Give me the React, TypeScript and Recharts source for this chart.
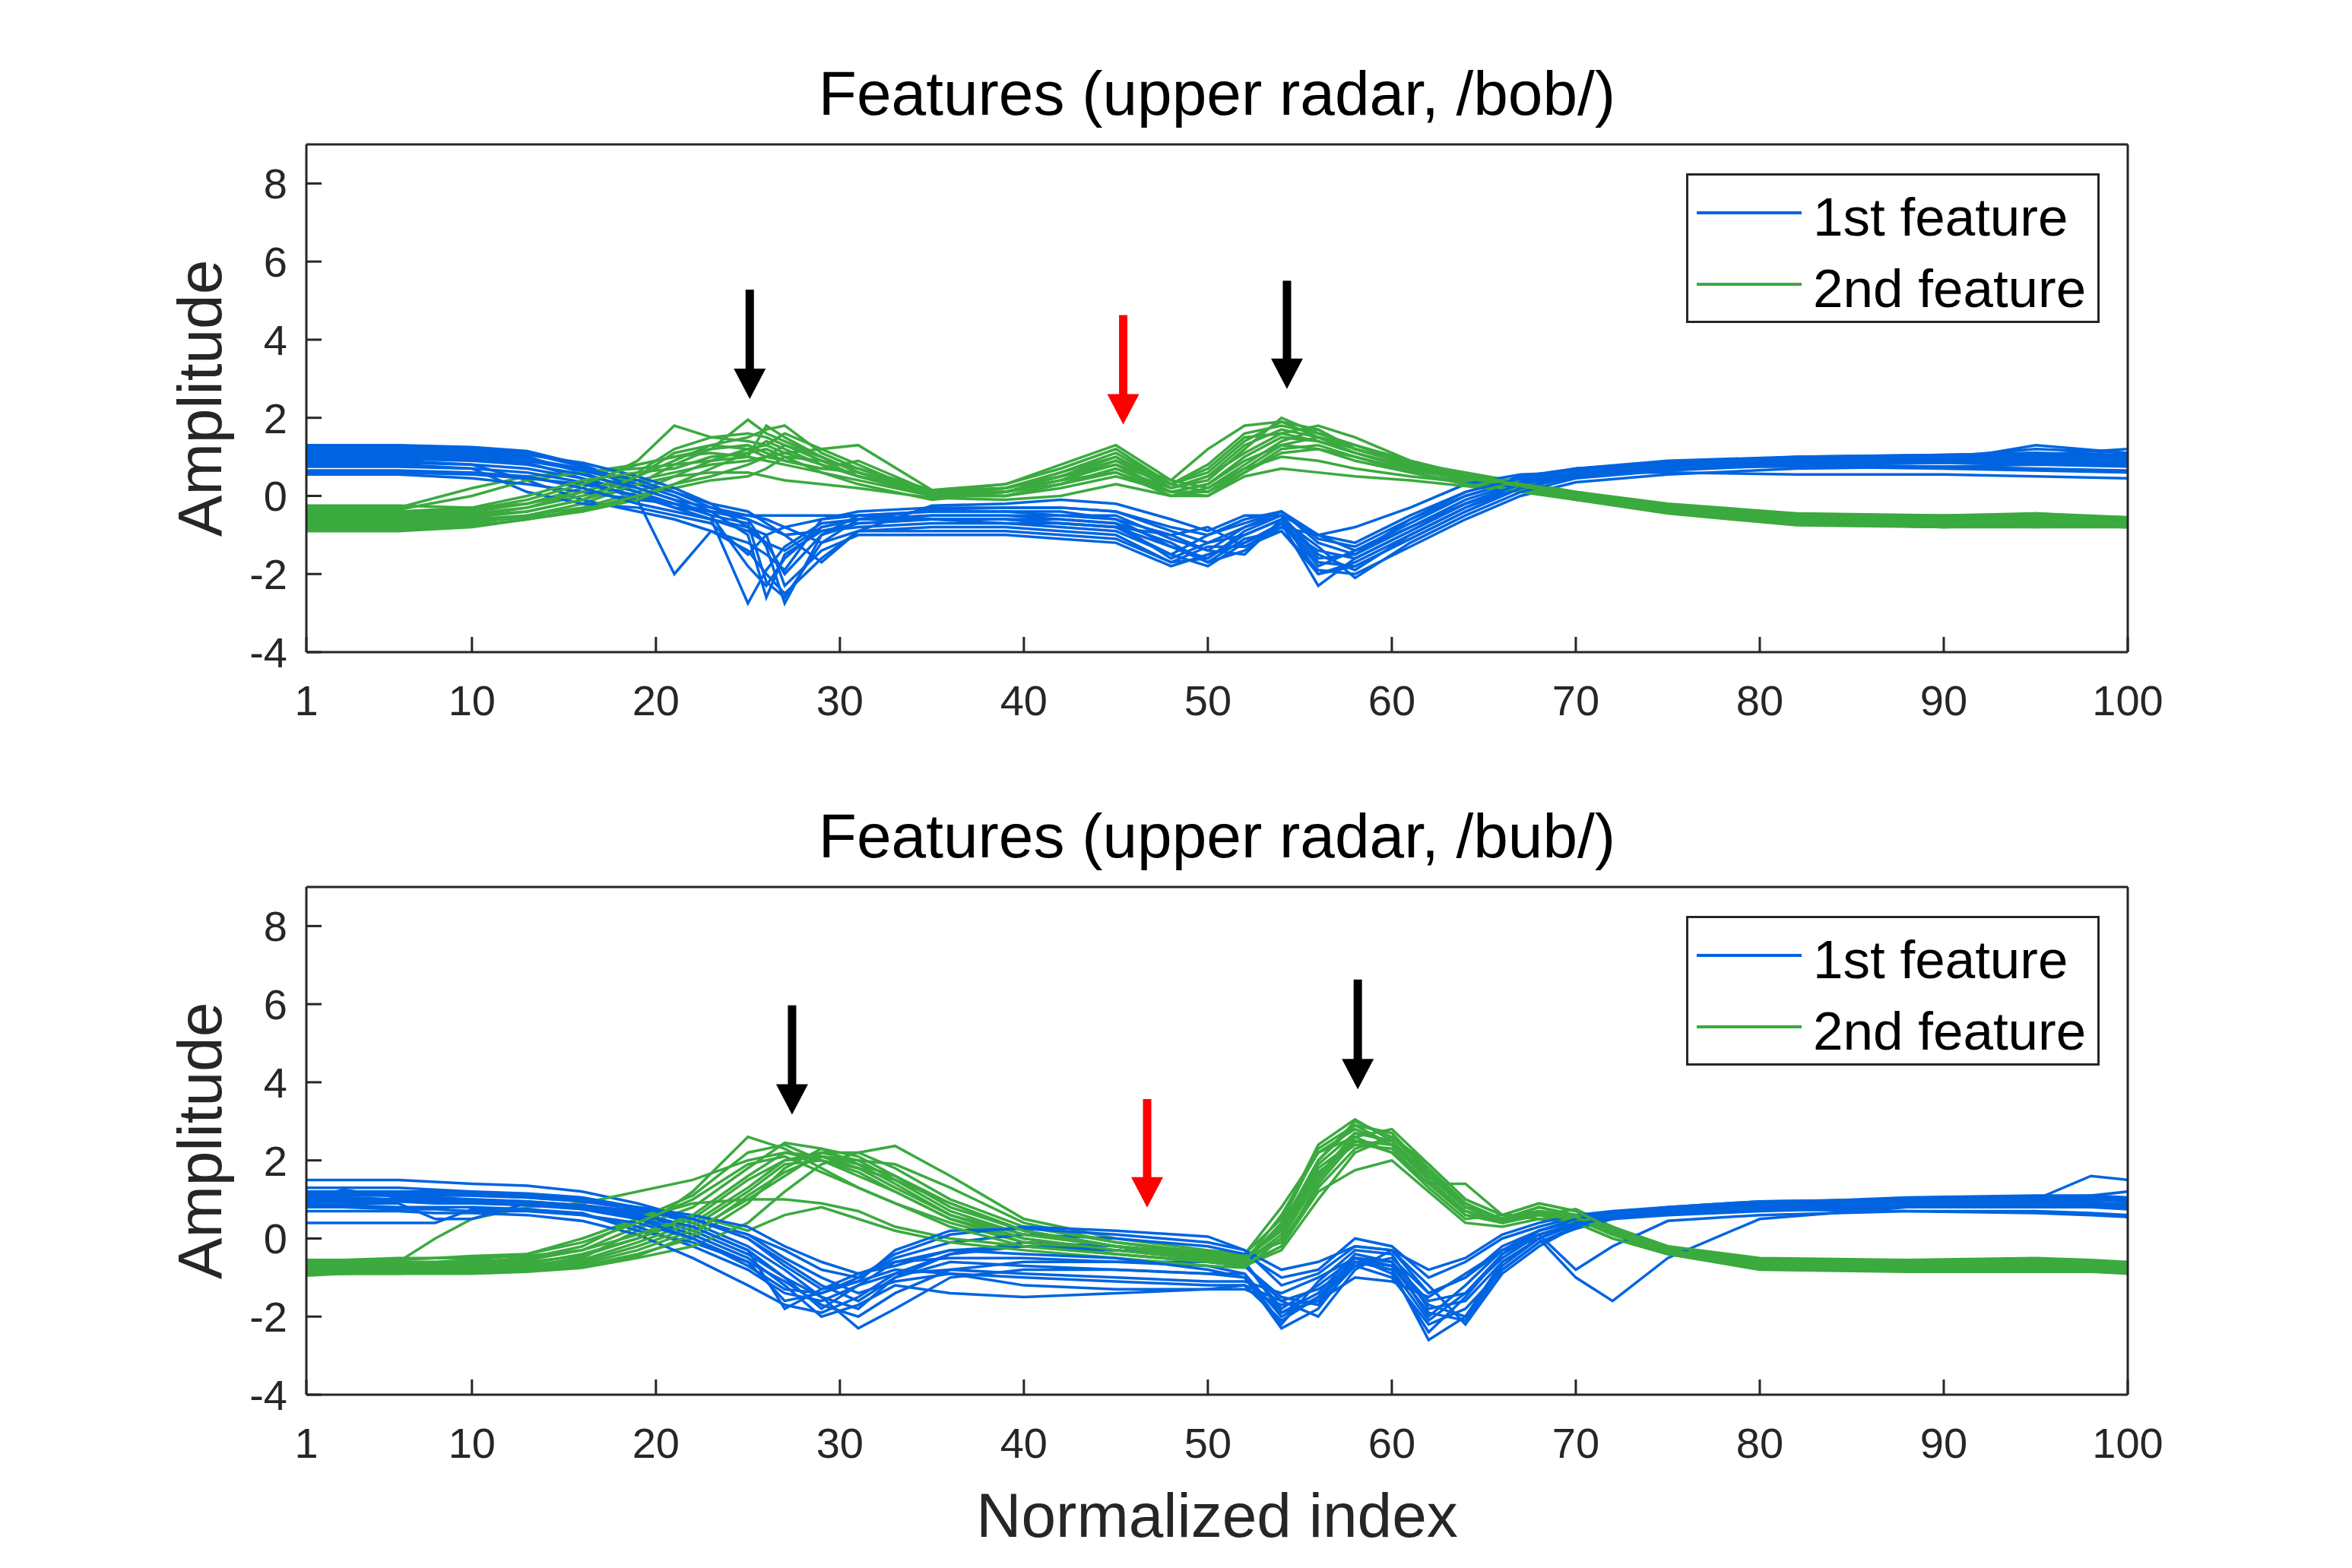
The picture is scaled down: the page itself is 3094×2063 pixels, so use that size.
import React from "react";
import { Legend, Line, LineChart, ReferenceLine, XAxis, YAxis } from "recharts";

const FIRST_COLOR = "#0064E1";
const SECOND_COLOR = "#3BAA3F";
const AXIS_COLOR = "#262626";
const FONT = "'Liberation Sans', Arial, Helvetica, sans-serif";

const X_TICKS = [1, 10, 20, 30, 40, 50, 60, 70, 80, 90, 100];
const Y_TICKS = [-4, -2, 0, 2, 4, 6, 8];

// sample positions (normalized index) used for the /bob/ curves
const GRID_BOB = [
  1, 6, 10, 13, 16, 19, 21, 23,
  25, 26, 27, 29, 31, 35, 39, 42,
  45, 48, 50, 52, 54, 56, 58, 61,
  64, 67, 70, 75, 82, 90, 95, 100,
];

const BOB_FIRST = [
  [1.3, 1.3, 1.25, 1.15, 0.8, 0.3, 0.1, -0.3, -0.6, -1.3, -2.75, -1.0, -0.5, -0.4, -0.4, -0.4, -0.6, -1.3, -1.6, -0.9, -0.5, -1.5, -1.9, -1.0, -0.3, 0.3, 0.6, 0.8, 0.95, 1.0, 1.2, 1.1],
  [1.15, 1.15, 1.1, 1.0, 0.6, 0.1, -0.3, -0.6, -2.75, -1.9, -1.3, -0.7, -0.6, -0.6, -0.6, -0.7, -0.8, -1.5, -1.8, -1.2, -0.7, -2.3, -1.6, -0.9, -0.2, 0.3, 0.55, 0.75, 0.9, 0.95, 1.0, 0.95],
  [1.0, 1.0, 0.95, 0.85, 0.45, -0.1, -2.0, -0.9, -1.2, -1.5, -1.9, -0.6, -0.4, -0.3, -0.3, -0.3, -0.4, -0.8, -1.0, -0.6, -0.4, -1.2, -1.5, -0.6, 0.0, 0.4, 0.65, 0.8, 0.85, 0.9, 0.9, 0.85],
  [0.9, 0.9, 0.8, 0.4, -0.1, -0.4, -0.6, -0.9, -1.4, -2.0, -2.5, -1.6, -0.9, -0.8, -0.8, -0.9, -1.0, -1.7, -1.3, -1.3, -0.9, -1.9, -2.0, -1.3, -0.6, 0.0, 0.35, 0.55, 0.7, 0.75, 0.8, 0.75],
  [0.85, 0.85, 0.8, 0.7, 0.45, 0.1, -0.2, -0.5, -0.7, -2.2, -2.6, -1.2, -0.9, -0.9, -0.9, -1.0, -1.1, -1.7, -1.6, -1.0, -0.6, -1.7, -1.8, -1.1, -0.4, 0.2, 0.5, 0.7, 0.8, 0.85, 0.85, 0.8],
  [0.8, 0.8, 0.7, 0.1, -0.2, -0.3, -0.5, -0.7, -1.5, -1.0, -0.8, -0.6, -0.5, -0.4, -0.4, -0.5, -0.6, -1.0, -0.8, -1.3, -0.8, -1.0, -1.4, -0.7, 0.0, 0.4, 0.7, 0.85, 0.95, 1.0, 1.05, 0.95],
  [0.6, 0.6, 0.55, 0.45, 0.3, 0.0, -0.3, -0.4, -0.5, -0.5, -0.5, -0.5, -0.5, -0.6, -0.7, -0.8, -0.9, -1.5, -1.0, -0.7, -0.4, -1.0, -1.2, -0.5, 0.1, 0.5, 0.7, 0.8, 0.8, 0.75, 0.7, 0.65],
  [1.05, 1.05, 1.0, 0.9, 0.65, 0.3, 0.0, -0.4, -1.0, -2.6, -1.5, -0.9, -0.7, -0.6, -0.6, -0.6, -0.7, -1.2, -1.7, -1.4, -0.7, -1.8, -1.4, -0.8, -0.2, 0.3, 0.55, 0.8, 0.9, 0.95, 1.05, 1.2],
  [0.55, 0.55, 0.45, 0.3, 0.1, -0.1, -0.2, -0.4, -0.6, -0.8, -1.0, -1.7, -0.9, -0.25, -0.2, -0.1, -0.2, -0.6, -0.9, -0.5, -0.5, -1.0, -0.8, -0.3, 0.3, 0.55, 0.6, 0.6, 0.55, 0.55, 0.5, 0.45],
  [1.2, 1.2, 1.15, 1.05, 0.85, 0.5, 0.2, -0.2, -0.8, -1.2, -2.0, -1.0, -0.7, -0.6, -0.6, -0.7, -0.8, -1.3, -1.7, -1.1, -0.9, -2.0, -1.7, -1.0, -0.3, 0.2, 0.5, 0.7, 0.85, 0.9, 1.3, 1.1],
  [0.75, 0.75, 0.7, 0.6, 0.35, 0.0, -0.3, -0.6, -0.9, -1.2, -1.4, -0.8, -0.6, -0.5, -0.5, -0.5, -0.5, -1.1, -1.4, -0.8, -0.5, -1.6, -1.5, -0.8, -0.1, 0.35, 0.6, 0.75, 0.8, 0.85, 0.8, 0.8],
  [1.1, 1.1, 1.05, 0.95, 0.7, 0.4, 0.1, -0.2, -0.4, -0.7, -1.0, -0.9, -0.8, -0.7, -0.7, -0.7, -0.8, -1.0, -1.4, -1.5, -0.6, -1.3, -2.1, -1.2, -0.5, 0.1, 0.45, 0.65, 0.8, 0.9, 0.95, 0.9],
  [1.25, 1.25, 1.2, 1.1, 0.75, 0.2, -0.1, -0.5, -1.8, -2.3, -1.6, -0.8, -0.6, -0.5, -0.5, -0.6, -0.7, -1.6, -1.2, -1.0, -0.6, -2.0, -1.8, -1.1, -0.4, 0.2, 0.55, 0.8, 1.0, 1.05, 1.1, 1.05],
  [0.65, 0.65, 0.6, 0.5, 0.2, -0.2, -0.4, -0.6, -0.8, -1.0, -2.3, -1.4, -1.0, -1.0, -1.0, -1.1, -1.2, -1.8, -1.5, -1.2, -0.8, -1.4, -1.6, -0.9, -0.2, 0.3, 0.6, 0.75, 0.75, 0.7, 0.65, 0.6],
  [0.95, 0.95, 0.9, 0.8, 0.55, 0.2, -0.1, -0.3, -0.5, -0.6, -0.8, -1.2, -0.6, -0.35, -0.3, -0.3, -0.4, -0.9, -1.2, -0.8, -0.4, -1.1, -1.3, -0.6, 0.1, 0.45, 0.7, 0.9, 1.0, 1.05, 1.1, 1.0],
];

const BOB_SECOND = [
  [-0.5, -0.5, -0.4, -0.2, 0.2, 0.9, 1.8, 1.5, 1.4, 1.3, 1.1, 0.8, 0.5, 0.1, 0.3, 0.7, 1.2, 0.3, 0.6, 1.4, 1.9, 1.7, 1.2, 0.8, 0.5, 0.3, 0.05, -0.3, -0.6, -0.65, -0.6, -0.65],
  [-0.7, -0.7, -0.6, -0.5, -0.2, 0.3, 0.8, 1.2, 1.95, 1.6, 1.4, 1.0, 0.6, 0.05, 0.2, 0.6, 1.0, 0.2, 0.4, 1.2, 2.0, 1.6, 1.3, 0.9, 0.55, 0.3, 0.0, -0.35, -0.65, -0.7, -0.7, -0.7],
  [-0.3, -0.3, 0.2, 0.5, 0.6, 0.7, 0.8, 0.9, 1.0, 1.8, 1.5, 1.0, 0.6, 0.1, 0.2, 0.5, 0.8, 0.1, 0.3, 1.0, 1.5, 1.4, 1.1, 0.7, 0.4, 0.25, 0.0, -0.3, -0.55, -0.6, -0.5, -0.6],
  [-0.8, -0.8, -0.7, -0.5, -0.3, 0.1, 0.5, 0.9, 1.2, 1.3, 1.6, 1.2, 0.8, 0.0, 0.1, 0.4, 0.9, 0.4, 0.2, 0.8, 1.4, 1.7, 1.2, 0.8, 0.5, 0.3, 0.0, -0.3, -0.65, -0.75, -0.8, -0.75],
  [-0.6, -0.6, -0.5, -0.3, 0.0, 0.4, 0.6, 0.8, 0.9, 1.0, 1.1, 1.2, 1.3, 0.15, 0.1, 0.3, 0.7, 0.2, 0.5, 1.3, 1.7, 1.5, 1.1, 0.7, 0.45, 0.2, 0.0, -0.3, -0.6, -0.6, -0.6, -0.65],
  [-0.35, -0.35, 0.0, 0.4, 0.6, 0.8, 1.0, 1.1, 1.0, 0.9, 0.8, 0.6, 0.4, 0.0, 0.0, 0.3, 0.6, 0.0, 0.2, 0.7, 1.0, 0.9, 0.7, 0.5, 0.35, 0.2, 0.0, -0.35, -0.6, -0.55, -0.45, -0.55],
  [-0.75, -0.75, -0.65, -0.55, -0.4, 0.0, 0.2, 0.4, 0.5, 0.7, 1.0, 0.9, 0.7, 0.05, 0.0, 0.2, 0.5, 0.1, 0.1, 0.6, 1.2, 1.3, 1.0, 0.6, 0.35, 0.15, -0.05, -0.35, -0.7, -0.75, -0.75, -0.8],
  [-0.55, -0.55, -0.45, -0.3, 0.1, 0.6, 1.2, 1.5, 1.6, 1.5, 1.3, 0.9, 0.5, 0.1, 0.1, 0.4, 0.8, 0.3, 0.8, 1.6, 1.8, 1.6, 1.3, 0.85, 0.6, 0.35, 0.1, -0.25, -0.5, -0.55, -0.5, -0.55],
  [-0.65, -0.65, -0.55, -0.4, -0.1, 0.3, 0.5, 0.6, 0.6, 0.5, 0.4, 0.3, 0.2, -0.05, -0.1, 0.0, 0.3, 0.0, 0.0, 0.5, 0.7, 0.6, 0.5, 0.4, 0.25, 0.1, -0.1, -0.45, -0.75, -0.8, -0.75, -0.75],
  [-0.25, -0.25, -0.3, -0.2, 0.1, 0.5, 0.9, 1.3, 1.5, 1.7, 1.8, 1.1, 0.7, 0.15, 0.3, 0.8, 1.3, 0.4, 1.2, 1.8, 1.9, 1.5, 1.2, 0.8, 0.55, 0.3, 0.05, -0.3, -0.5, -0.5, -0.45, -0.6],
  [-0.9, -0.9, -0.8, -0.6, -0.4, -0.1, 0.3, 0.7, 1.1, 1.4, 1.2, 0.8, 0.5, 0.0, 0.0, 0.3, 0.7, 0.1, 0.3, 0.9, 1.3, 1.2, 0.9, 0.6, 0.3, 0.15, -0.1, -0.4, -0.7, -0.8, -0.8, -0.8],
  [-0.45, -0.45, -0.35, -0.1, 0.3, 0.8, 1.0, 1.2, 1.3, 1.1, 0.9, 0.7, 0.9, 0.1, 0.2, 0.6, 1.1, 0.3, 0.7, 1.5, 1.6, 1.4, 1.1, 0.75, 0.5, 0.3, 0.05, -0.3, -0.55, -0.6, -0.55, -0.6],
  [-0.6, -0.6, -0.5, -0.4, -0.1, 0.5, 1.1, 1.3, 1.2, 1.0, 0.9, 0.7, 0.6, 0.1, 0.2, 0.5, 0.9, 0.2, 0.5, 1.1, 1.6, 1.8, 1.5, 0.9, 0.55, 0.3, 0.05, -0.3, -0.6, -0.7, -0.65, -0.7],
  [-0.85, -0.85, -0.75, -0.6, -0.35, 0.0, 0.3, 0.5, 0.8, 1.0, 1.3, 1.0, 0.6, 0.0, 0.1, 0.5, 1.0, 0.3, 0.1, 0.7, 1.3, 1.5, 1.3, 0.8, 0.45, 0.25, 0.0, -0.35, -0.7, -0.8, -0.75, -0.8],
  [-0.4, -0.4, -0.3, 0.0, 0.4, 0.6, 0.7, 1.0, 1.1, 1.2, 1.0, 0.6, 0.3, -0.1, 0.1, 0.4, 0.6, 0.1, 0.0, 0.6, 1.1, 1.2, 1.0, 0.65, 0.45, 0.3, 0.1, -0.2, -0.45, -0.5, -0.5, -0.55],
];

// sample positions for the /bub/ curves
const GRID_BUB = [
  1, 3, 6, 8, 10, 13, 16,
  19, 22, 25, 27, 29, 31, 33,
  36, 40, 45, 50, 52, 54, 56,
  58, 60, 62, 64, 66, 68, 70,
  72, 75, 80, 88, 95, 98, 100,
];

const BUB_FIRST = [
  [1.5, 1.5, 1.5, 1.45, 1.4, 1.35, 1.2, 0.9, 0.5, 0.0, -0.6, -1.2, -1.6, -1.0, -0.4, -0.1, -0.2, -0.4, -0.6, -1.8, -1.2, -0.5, -0.6, -1.6, -1.4, -0.4, 0.2, 0.45, 0.6, 0.75, 0.9, 1.0, 1.0, 1.6, 1.5],
  [1.2, 1.2, 1.2, 1.15, 1.1, 1.05, 0.95, 0.75, 0.4, -0.2, -0.8, -1.5, -2.3, -1.8, -1.0, -0.8, -0.8, -0.9, -0.9, -2.0, -1.5, -0.6, -0.8, -2.6, -2.0, -0.7, 0.0, 0.4, 0.6, 0.7, 0.85, 0.95, 0.95, 0.95, 1.0],
  [1.0, 1.25, 1.05, 1.0, 1.0, 0.95, 0.85, 0.6, 0.2, -0.4, -1.0, -1.8, -1.2, -0.6, -0.3, -0.2, -0.3, -0.5, -0.7, -1.6, -2.0, -0.8, -0.3, -1.2, -2.2, -0.9, -0.2, 0.3, 0.55, 0.7, 0.8, 0.9, 0.9, 0.9, 0.85],
  [0.85, 0.85, 0.8, 0.8, 0.8, 0.75, 0.6, 0.3, -0.2, -0.8, -1.4, -1.6, -1.2, -0.9, -0.8, -0.9, -1.0, -1.1, -1.1, -1.4, -1.0, -0.5, -0.9, -2.4, -1.5, -0.4, 0.1, 0.35, 0.5, 0.6, 0.7, 0.8, 0.8, 0.8, 0.75],
  [1.1, 1.1, 1.1, 1.05, 1.0, 0.95, 0.85, 0.65, 0.3, -0.3, -1.8, -1.3, -0.9, -0.6, -0.5, -0.5, -0.6, -0.7, -0.9, -2.2, -1.1, -0.3, -0.4, -1.8, -1.6, -0.6, 0.0, 0.4, 0.6, 0.75, 0.85, 0.95, 1.0, 1.0, 1.0],
  [0.4, 0.4, 0.4, 0.4, 0.75, 0.75, 0.65, 0.2, -0.1, -0.6, -1.1, -1.7, -2.0, -1.4, -0.8, -0.6, -0.6, -0.6, -0.7, -1.5, -1.7, -0.7, -0.5, -1.4, -1.0, -0.2, 0.2, 0.45, 0.6, 0.7, 0.75, 0.7, 0.65, 0.6, 0.55],
  [0.9, 0.9, 0.9, 0.5, 0.5, 0.9, 0.85, 0.7, 0.5, 0.1, -0.3, -0.8, -1.0, -0.5, -0.1, 0.1, 0.0, -0.2, -0.4, -1.0, -0.8, 0.0, -0.2, -1.0, -0.6, 0.0, 0.3, 0.55, 0.65, 0.75, 0.85, 0.9, 0.9, 0.9, 0.9],
  [1.3, 1.3, 1.3, 1.25, 1.2, 1.15, 1.05, 0.8, 0.5, 0.1, -0.5, -1.0, -1.4, -1.1, -0.9, -1.2, -1.3, -1.3, -1.2, -1.6, -1.3, -0.7, -1.0, -2.2, -1.8, -0.8, -0.1, 0.25, 0.5, 0.7, 0.9, 1.05, 1.1, 1.1, 1.05],
  [0.7, 0.7, 0.7, 0.65, 0.65, 0.6, 0.45, 0.1, -0.5, -1.2, -1.7, -1.9, -1.5, -0.9, -0.4, -0.2, -0.3, -0.5, -0.6, -1.9, -1.4, -0.4, -0.6, -2.0, -1.2, -0.3, 0.1, -0.8, -0.2, 0.45, 0.6, 0.7, 0.7, 0.65, 0.6],
  [1.05, 1.05, 1.0, 1.0, 0.95, 0.9, 0.8, 0.55, 0.1, -0.5, -1.2, -2.0, -1.7, -1.2, -1.4, -1.5, -1.4, -1.3, -1.3, -1.7, -1.6, -1.0, -1.1, -1.5, -0.9, -0.3, 0.0, -1.0, -1.6, -0.5, 0.5, 0.8, 0.85, 0.85, 0.8],
  [0.8, 0.8, 0.75, 0.75, 0.7, 0.7, 0.6, 0.4, 0.0, -0.7, -1.3, -1.4, -1.0, -0.4, 0.1, 0.3, 0.2, 0.05, -0.3, -0.8, -0.6, -0.2, -0.3, -0.8, -0.5, 0.1, 0.4, 0.6, 0.7, 0.8, 0.95, 1.0, 1.0, 1.0, 0.95],
  [1.15, 1.15, 1.15, 1.1, 1.1, 1.05, 0.95, 0.8, 0.6, 0.3, -0.2, -0.6, -0.9, -0.7, -0.3, -0.4, -0.5, -0.8, -1.0, -2.3, -1.8, -0.6, -0.7, -1.9, -2.1, -0.8, -0.1, 0.3, 0.55, 0.7, 0.8, 0.9, 0.95, 1.1, 1.2],
  [1.0, 1.0, 1.0, 0.95, 0.95, 0.9, 0.8, 0.6, 0.3, -0.3, -1.0, -1.5, -1.8, -1.0, -0.6, -0.7, -0.8, -0.9, -1.0, -1.9, -1.6, -0.6, -0.8, -2.1, -1.4, -0.5, 0.1, 0.4, 0.55, 0.7, 0.8, 0.9, 0.9, 0.9, 0.9],
  [1.2, 1.2, 1.2, 1.2, 1.15, 1.1, 1.0, 0.8, 0.5, 0.0, -0.7, -1.3, -1.1, -0.3, 0.2, 0.25, 0.1, -0.1, -0.3, -1.2, -0.9, -0.2, -0.3, -1.4, -1.0, -0.3, 0.2, 0.5, 0.65, 0.8, 0.95, 1.0, 1.05, 1.05, 1.0],
  [0.95, 0.95, 0.95, 0.9, 0.9, 0.85, 0.75, 0.5, 0.0, -0.6, -1.6, -1.4, -1.1, -0.8, -0.9, -1.0, -1.1, -1.2, -1.2, -2.1, -1.5, -0.5, -0.7, -1.7, -2.0, -0.6, 0.0, 0.35, 0.55, 0.65, 0.75, 0.85, 0.85, 0.85, 0.8],
];

const BUB_SECOND = [
  [-0.6, -0.6, -0.6, 0.0, 0.5, 0.8, 0.9, 1.2, 1.5, 2.0, 2.2, 2.0, 1.8, 1.5, 0.9, 0.2, -0.2, -0.4, -0.4, 0.8, 2.2, 2.8, 2.4, 1.5, 0.6, 0.5, 0.7, 0.5, 0.1, -0.3, -0.6, -0.7, -0.65, -0.7, -0.7],
  [-0.8, -0.75, -0.8, -0.8, -0.75, -0.7, -0.5, 0.2, 1.2, 2.6, 2.3, 1.8, 1.3, 0.9, 0.4, -0.1, -0.3, -0.5, -0.5, 0.3, 2.0, 3.0, 2.6, 1.7, 0.8, 0.5, 0.8, 0.6, 0.2, -0.3, -0.7, -0.8, -0.8, -0.8, -0.85],
  [-0.7, -0.7, -0.65, -0.65, -0.6, -0.55, -0.3, 0.3, 0.8, 1.8, 2.45, 2.3, 1.9, 1.4, 0.6, 0.0, -0.3, -0.5, -0.6, 0.0, 1.5, 2.6, 2.8, 1.9, 1.0, 0.6, 0.9, 0.7, 0.3, -0.25, -0.6, -0.65, -0.6, -0.65, -0.7],
  [-0.9, -0.9, -0.85, -0.85, -0.8, -0.8, -0.7, -0.4, 0.0, 0.9, 1.8, 2.3, 2.1, 1.6, 0.8, 0.2, -0.2, -0.6, -0.7, -0.3, 1.0, 2.2, 2.6, 1.8, 0.9, 0.4, 0.6, 0.6, 0.2, -0.35, -0.75, -0.8, -0.8, -0.8, -0.85],
  [-0.75, -0.75, -0.75, -0.7, -0.7, -0.65, -0.4, 0.0, 0.5, 1.5, 2.0, 2.2, 2.2, 2.37, 1.6, 0.5, 0.0, -0.3, -0.4, 0.5, 2.4, 3.05, 2.5, 1.5, 0.7, 0.4, 0.6, 0.75, 0.3, -0.2, -0.55, -0.6, -0.55, -0.6, -0.65],
  [-0.85, -0.85, -0.8, -0.8, -0.8, -0.75, -0.6, -0.2, 0.3, 1.2, 1.9, 2.0, 1.7, 1.2, 0.5, -0.1, -0.4, -0.6, -0.6, 0.1, 1.8, 2.5, 2.2, 1.4, 1.4, 0.6, 0.5, 0.4, 0.0, -0.4, -0.7, -0.75, -0.75, -0.75, -0.8],
  [-0.65, -0.65, -0.6, -0.6, -0.55, -0.4, 0.0, 0.5, 0.9, 1.0, 1.0, 0.9, 0.7, 0.3, 0.0, -0.2, -0.4, -0.6, -0.7, -0.2, 1.2, 1.75, 2.0, 1.2, 0.4, 0.3, 0.5, 0.5, 0.1, -0.35, -0.7, -0.75, -0.7, -0.75, -0.75],
  [-0.95, -0.9, -0.9, -0.9, -0.9, -0.85, -0.75, -0.5, -0.2, 0.4, 1.2, 1.9, 2.2, 1.8, 1.0, 0.3, -0.1, -0.4, -0.5, 0.2, 1.6, 2.7, 2.5, 1.6, 0.8, 0.5, 0.7, 0.5, 0.1, -0.4, -0.8, -0.85, -0.85, -0.85, -0.9],
  [-0.7, -0.7, -0.7, -0.65, -0.6, -0.5, -0.2, 0.5, 1.1, 2.2, 2.4, 2.0, 1.6, 1.2, 0.5, 0.0, -0.3, -0.55, -0.6, 0.4, 2.3, 2.9, 2.4, 1.5, 0.7, 0.5, 0.8, 0.6, 0.2, -0.3, -0.65, -0.7, -0.65, -0.7, -0.75],
  [-0.8, -0.8, -0.8, -0.75, -0.75, -0.7, -0.55, -0.1, 0.4, 1.3, 2.0, 2.1, 2.0, 1.9, 1.3, 0.4, -0.1, -0.35, -0.45, -0.1, 1.3, 2.3, 2.6, 1.9, 1.0, 0.6, 0.6, 0.4, 0.0, -0.4, -0.75, -0.8, -0.8, -0.8, -0.8],
  [-0.6, -0.6, -0.55, -0.5, -0.5, -0.45, -0.3, 0.1, 0.6, 0.2, 0.6, 0.8, 0.5, 0.2, -0.1, -0.3, -0.5, -0.7, -0.75, 0.0, 1.7, 2.4, 2.3, 1.4, 0.6, 0.4, 0.6, 0.5, 0.1, -0.3, -0.6, -0.65, -0.6, -0.6, -0.65],
  [-0.85, -0.85, -0.85, -0.8, -0.8, -0.8, -0.65, -0.3, 0.2, 1.0, 1.6, 2.2, 2.0, 1.5, 0.7, 0.1, -0.2, -0.5, -0.55, 0.3, 2.0, 2.9, 2.7, 1.7, 0.9, 0.5, 0.8, 0.6, 0.2, -0.3, -0.65, -0.7, -0.7, -0.7, -0.75],
  [-0.7, -0.7, -0.7, -0.7, -0.65, -0.6, -0.45, 0.0, 0.6, 1.6, 2.2, 2.1, 1.8, 1.3, 0.6, 0.1, -0.2, -0.45, -0.5, 0.2, 1.9, 2.7, 2.5, 1.6, 0.8, 0.5, 0.7, 0.6, 0.2, -0.3, -0.7, -0.75, -0.7, -0.75, -0.8],
  [-0.9, -0.9, -0.9, -0.85, -0.85, -0.8, -0.7, -0.45, 0.1, 1.1, 1.7, 2.1, 1.9, 1.6, 0.9, 0.2, -0.2, -0.55, -0.65, -0.2, 1.4, 2.5, 2.4, 1.7, 0.9, 0.45, 0.65, 0.55, 0.15, -0.35, -0.75, -0.8, -0.8, -0.8, -0.85],
  [-0.55, -0.55, -0.5, -0.5, -0.45, -0.4, -0.1, 0.4, 1.0, 1.9, 2.1, 1.7, 1.3, 0.9, 0.3, -0.2, -0.4, -0.6, -0.6, 0.6, 2.2, 2.6, 2.2, 1.3, 0.5, 0.6, 0.9, 0.7, 0.25, -0.2, -0.5, -0.55, -0.5, -0.55, -0.6],
];

// arrow annotations: x position, top of shaft and tip (amplitude units)
const BOB_ARROWS = [
  { x: 25.1, top: 5.28, tip: 2.48, tone: "black" },
  { x: 45.4, top: 4.63, tip: 1.83, tone: "red" },
  { x: 54.3, top: 5.51, tip: 2.74, tone: "black" },
];
const BUB_ARROWS = [
  { x: 27.4, top: 5.97, tip: 3.17, tone: "black" },
  { x: 46.7, top: 3.57, tip: 0.79, tone: "red" },
  { x: 58.15, top: 6.63, tip: 3.82, tone: "black" },
];

type Arrow = { x: number; top: number; tip: number; tone: string };

const CHART_W = 3094;
const CHART_H = 1000;
const PLOT_LEFT = 403;
const PLOT_RIGHT = 2799;
const PLOT_TOP = 190;
const PLOT_BOTTOM = 858;
const Y_AXIS_W = 150;
const X_AXIS_H = 100;
// the top/right axes only carry the box edge and inward ticks, 1px thick
const EDGE_AXIS = 1;
const MARGIN = {
  top: PLOT_TOP - EDGE_AXIS,
  left: PLOT_LEFT - Y_AXIS_W,
  right: CHART_W - PLOT_RIGHT - EDGE_AXIS,
  bottom: CHART_H - PLOT_BOTTOM - X_AXIS_H,
};
const SECOND_PANEL_TOP = 977;

const frameLine = { stroke: AXIS_COLOR, strokeWidth: 3 };
const tickFont = { fontSize: 56, fill: AXIS_COLOR, fontFamily: FONT };

function buildRows(grid: number[], first: number[][], second: number[][]) {
  return grid.map((x, i) => {
    const row: Record<string, number> = { x };
    first.forEach((curve, k) => (row[`f${k}`] = curve[i]));
    second.forEach((curve, k) => (row[`s${k}`] = curve[i]));
    return row;
  });
}

function ArrowShape(props: any) {
  const { x1, y1, x2, y2, stroke } = props;
  const head = 40;
  const half = 21;
  const shaft = 11;
  return (
    <g>
      <rect x={x1 - shaft / 2} y={y1} width={shaft} height={Math.max(0, y2 - head - y1 + 1)} fill={stroke} />
      <polygon points={`${x2 - half},${y2 - head} ${x2 + half},${y2 - head} ${x2},${y2}`} fill={stroke} />
    </g>
  );
}

function FeatureLegend({ payload }: any) {
  const seen = new Set<string>();
  const entries = (payload ?? []).filter((p: any) => {
    if (seen.has(p.value)) return false;
    seen.add(p.value);
    return true;
  });
  return (
    <svg width={544} height={197} style={{ display: "block" }}>
      <rect x={1.5} y={1.5} width={541} height={194} fill="#ffffff" stroke={AXIS_COLOR} strokeWidth={3} />
      {entries.map((e: any, i: number) => (
        <g key={e.value}>
          <line x1={14} x2={152} y1={52 + i * 94} y2={52 + i * 94} stroke={e.color} strokeWidth={4} />
          <text x={167} y={82 + i * 94} fontSize={71} fontFamily={FONT} fill="#000000">
            {e.value}
          </text>
        </g>
      ))}
    </svg>
  );
}

function FeaturePanel({
  grid,
  first,
  second,
  arrows,
}: {
  grid: number[];
  first: number[][];
  second: number[][];
  arrows: Arrow[];
}) {
  const rows = buildRows(grid, first, second);
  const series: { key: string; name: string; color: string }[] = [];
  first.forEach((_, k) => {
    series.push({ key: `f${k}`, name: "1st feature", color: FIRST_COLOR });
    if (k < second.length) series.push({ key: `s${k}`, name: "2nd feature", color: SECOND_COLOR });
  });
  return (
    <LineChart width={CHART_W} height={CHART_H} data={rows} margin={MARGIN}>
      <XAxis
        dataKey="x"
        type="number"
        domain={[1, 100]}
        ticks={X_TICKS}
        interval={0}
        allowDataOverflow
        height={X_AXIS_H}
        tickSize={-20}
        tickMargin={63}
        tick={tickFont}
        axisLine={frameLine}
        tickLine={frameLine}
      />
      <XAxis
        xAxisId="top"
        orientation="top"
        dataKey="x"
        type="number"
        domain={[1, 100]}
        ticks={X_TICKS}
        interval={0}
        allowDataOverflow
        height={EDGE_AXIS}
        tickSize={-20}
        tick={false}
        axisLine={frameLine}
        tickLine={frameLine}
      />
      <YAxis
        type="number"
        domain={[-4, 9]}
        ticks={Y_TICKS}
        interval={0}
        allowDataOverflow
        width={Y_AXIS_W}
        tickSize={-20}
        tickMargin={45}
        tick={tickFont}
        axisLine={frameLine}
        tickLine={frameLine}
      />
      <YAxis
        yAxisId="right"
        orientation="right"
        type="number"
        domain={[-4, 9]}
        ticks={Y_TICKS}
        interval={0}
        allowDataOverflow
        width={EDGE_AXIS}
        tickSize={-20}
        tick={false}
        axisLine={frameLine}
        tickLine={frameLine}
      />
      <Legend
        layout="vertical"
        align="center"
        verticalAlign="middle"
        width={544}
        height={197}
        wrapperStyle={{ left: 2218, top: 228, width: 544, height: 197 }}
        content={(props: any) => <FeatureLegend {...props} />}
      />
      {series.map((s) => (
        <Line
          key={s.key}
          dataKey={s.key}
          name={s.name}
          type="linear"
          stroke={s.color}
          strokeWidth={3.5}
          dot={false}
          activeDot={false}
          isAnimationActive={false}
        />
      ))}
      {arrows.map((a, i) => (
        <ReferenceLine
          key={`arrow-${i}`}
          segment={[
            { x: a.x, y: a.top },
            { x: a.x, y: a.tip },
          ]}
          stroke={a.tone === "red" ? "#FF0000" : "#000000"}
          shape={(p: any) => <ArrowShape {...p} />}
        />
      ))}
    </LineChart>
  );
}

export default function App() {
  return (
    <div
      style={{
        position: "absolute",
        left: 0,
        top: 0,
        width: 3094,
        height: 2063,
        background: "#ffffff",
        fontFamily: FONT,
        overflow: "hidden",
      }}
    >
      <svg width={3094} height={2063} style={{ position: "absolute", left: 0, top: 0 }}>
        <text x={1601} y={151} textAnchor="middle" fontSize={82} fontFamily={FONT} fill="#000000">
          Features (upper radar, /bob/)
        </text>
        <text x={1601} y={151 + SECOND_PANEL_TOP} textAnchor="middle" fontSize={82} fontFamily={FONT} fill="#000000">
          Features (upper radar, /bub/)
        </text>
        <text transform="translate(291, 524) rotate(-90)" textAnchor="middle" fontSize={82} fontFamily={FONT} fill={AXIS_COLOR}>
          Amplitude
        </text>
        <text
          transform={`translate(291, ${524 + SECOND_PANEL_TOP}) rotate(-90)`}
          textAnchor="middle"
          fontSize={82}
          fontFamily={FONT}
          fill={AXIS_COLOR}
        >
          Amplitude
        </text>
        <text x={1601} y={2022} textAnchor="middle" fontSize={82} fontFamily={FONT} fill={AXIS_COLOR}>
          Normalized index
        </text>
      </svg>
      <div style={{ position: "absolute", left: 0, top: 0 }}>
        <FeaturePanel grid={GRID_BOB} first={BOB_FIRST} second={BOB_SECOND} arrows={BOB_ARROWS} />
      </div>
      <div style={{ position: "absolute", left: 0, top: SECOND_PANEL_TOP }}>
        <FeaturePanel grid={GRID_BUB} first={BUB_FIRST} second={BUB_SECOND} arrows={BUB_ARROWS} />
      </div>
    </div>
  );
}
